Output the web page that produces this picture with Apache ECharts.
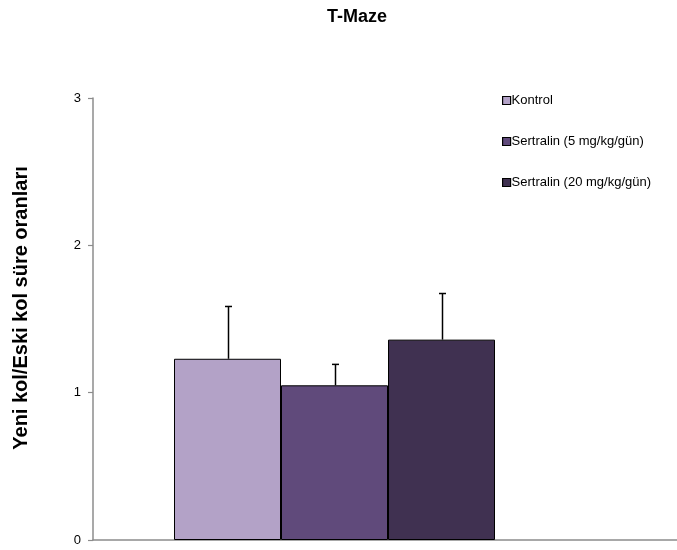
<!DOCTYPE html>
<html>
<head>
<meta charset="utf-8">
<script src="https://cdn.jsdelivr.net/npm/echarts@6/dist/echarts.min.js"></script>
<style>
  html, body { margin: 0; padding: 0; background: #fff; }
  #chart { width: 677px; height: 550px; }
</style>
</head>
<body>
<div id="chart"></div>
<script>
// Group names, mean ratios and their standard errors
const groups = ['Kontrol', 'Sertralin (5 mg/kg/gün)', 'Sertralin (20 mg/kg/gün)'];
const means = [1.23, 1.05, 1.36];
const errors = [0.355, 0.142, 0.313];
const colors = ['#B3A2C7', '#604A7B', '#403151'];
const yTicks = [0, 1, 2, 3];
const yTitle = 'Yeni kol/Eski kol süre oranları';

const BAR_W = 107;
const FONT = 'Liberation Sans, Arial, sans-serif';

const chart = echarts.init(document.getElementById('chart'));

const barSeries = groups.map((name, i) => ({
  name: name,
  type: 'bar',
  xAxisIndex: 0,
  yAxisIndex: 0,
  barWidth: BAR_W,
  barGap: '0%',
  data: [means[i]],
  itemStyle: { color: colors[i], borderColor: '#000', borderWidth: 1 },
  z: 2
}));

// Error bars (upper whisker with a cap) centred on each bar
const errSeries = {
  type: 'custom',
  xAxisIndex: 0,
  yAxisIndex: 0,
  data: means.map((m, i) => [0, m, m + errors[i], i]),
  renderItem: function (params, api) {
    const idx = api.value(3);
    const base = api.coord([api.value(0), api.value(1)]);
    const top = api.coord([api.value(0), api.value(2)]);
    const x = Math.round(base[0] + (idx - 1) * BAR_W) + 0.5;
    const style = { stroke: '#000', lineWidth: 1.5 };
    return {
      type: 'group',
      children: [
        { type: 'line', shape: { x1: x, y1: base[1], x2: x, y2: top[1] }, style: style },
        { type: 'line', shape: { x1: x - 3.5, y1: top[1], x2: x + 3.5, y2: top[1] }, style: style }
      ]
    };
  },
  z: 3,
  silent: true
};

chart.setOption({
  animation: false,
  backgroundColor: '#fff',
  title: {
    text: 'T-Maze',
    left: 322,
    top: 3,
    textStyle: { fontFamily: FONT, fontSize: 18, fontWeight: 'bold', color: '#000' }
  },
  graphic: [
    {
      type: 'text',
      x: 21,
      y: 308,
      rotation: Math.PI / 2,
      style: {
        text: yTitle,
        fontFamily: FONT,
        fontSize: 20,
        fontWeight: 'bold',
        fill: '#000',
        align: 'center',
        verticalAlign: 'middle'
      }
    }
  ],
  legend: {
    orient: 'vertical',
    left: 497,
    top: 89,
    itemGap: 28,
    itemWidth: 8,
    itemHeight: 8,
    icon: 'rect',
    itemStyle: { borderColor: '#000', borderWidth: 1.2 },
    textStyle: { fontFamily: FONT, fontSize: 13, color: '#000', padding: [0, 0, 0, -4] },
    data: groups
  },
  grid: [
    { left: 93, right: 101, top: 98, bottom: 10 },
    { left: 93, right: 0, top: 98, bottom: 10 }
  ],
  xAxis: [
    {
      type: 'category',
      gridIndex: 0,
      data: [''],
      axisLine: { show: false },
      axisTick: { show: false },
      axisLabel: { show: false }
    },
    {
      type: 'value',
      gridIndex: 1,
      min: 0,
      max: 1,
      axisLine: { show: true, lineStyle: { color: '#8c8c8c', width: 1.5 } },
      axisTick: { show: false },
      axisLabel: { show: false },
      splitLine: { show: false }
    }
  ],
  yAxis: [
    {
      type: 'value',
      gridIndex: 0,
      min: yTicks[0],
      max: yTicks[yTicks.length - 1],
      interval: 1,
      axisLine: { show: true, lineStyle: { color: '#8c8c8c', width: 1.5 } },
      axisTick: { show: true, length: 5, lineStyle: { color: '#8c8c8c', width: 1.2 } },
      axisLabel: { fontFamily: FONT, fontSize: 13, color: '#000', margin: 12 },
      splitLine: { show: false }
    },
    {
      type: 'value',
      gridIndex: 1,
      show: false,
      min: 0,
      max: 3
    }
  ],
  series: barSeries.concat([errSeries])
});
</script>
</body>
</html>
